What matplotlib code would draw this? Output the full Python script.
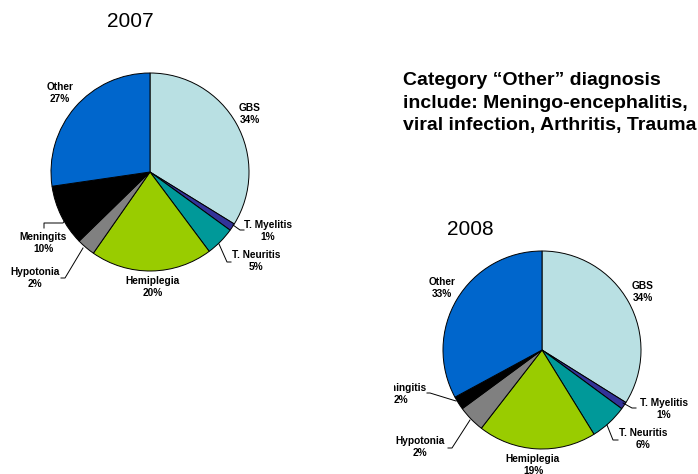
import matplotlib.pyplot as plt
from matplotlib.transforms import Bbox, TransformedBbox

plt.rcParams['font.family'] = ['Liberation Sans', 'DejaVu Sans']

# data (slice sizes, labels as printed)
names = ['GBS', 'T. Myelitis', 'T. Neuritis', 'Hemiplegia', 'Hypotonia', 'Meningits', 'Other']
names_2008 = ['GBS', 'T. Myelitis', 'T. Neuritis', 'Hemiplegia', 'Hypotonia', 'Meningitis', 'Other']
sizes_2007 = [33.8, 1.2, 4.8, 19.9, 3.0, 10.0, 27.3]
sizes_2008 = [33.9, 1.2, 6.1, 19.3, 4.4, 2.2, 32.9]
pct_2007 = ['34%', '1%', '5%', '20%', '2%', '10%', '27%']
pct_2008 = ['34%', '1%', '6%', '19%', '2%', '2%', '33%']
colors = ['#B9E0E3', '#333399', '#009999', '#99CC00', '#808080', '#000000', '#0066CC']

note = 'Category \u201cOther\u201d diagnosis\ninclude: Meningo-encephalitis,\nviral infection, Arthritis, Trauma'

W, H = 698, 474
fig = plt.figure(figsize=(W / 100, H / 100), dpi=100)
ax = fig.add_axes([0, 0, 1, 1])


def Y(y):
    return H - y


def draw_pie(sizes, labnames, pcts, center, label_pos, leaders, clip=None):
    wedges, _ = ax.pie(sizes, colors=colors, startangle=90, counterclock=False,
                       center=(center[0], Y(center[1])), radius=99,
                       wedgeprops=dict(edgecolor='black', linewidth=0.7))
    for i, (n, p) in enumerate(zip(labnames, pcts)):
        t = ax.text(label_pos[i][0], Y(label_pos[i][1]), n + '\n' + p,
                    ha='center', va='center', fontsize=7.3, fontweight='bold',
                    linespacing=1.2)
        if clip is not None:
            t.set_clip_box(clip)
            t.set_clip_on(True)
    for pts in leaders:
        ax.plot([p[0] for p in pts], [Y(p[1]) for p in pts], color='black', lw=0.7)


pos_2007 = [(250, 114), (268, 231), (256, 261), (153, 287), (35, 278), (43, 243), (60, 93)]
lead_2007 = [
    [(233, 225), (240, 230), (244, 230)],
    [(219, 244), (227, 262), (231, 262)],
    [(83, 248), (65, 278), (61, 278)],
    [(67, 217), (63, 223), (44, 223), (44, 228)],
]
draw_pie(sizes_2007, names, pct_2007, (150, 172), pos_2007, lead_2007)

# the 2008 chart is cut at its left side
clip_box = TransformedBbox(Bbox([[394, 0], [W, H]]), ax.transData)
pos_2008 = [(643, 292), (664, 409), (643, 439), (533, 465), (420, 447), (401, 394), (442, 288)]
lead_2008 = [
    [(623, 403), (632, 408), (636, 408)],
    [(607, 425), (613, 440), (618, 440)],
    [(470, 420), (452, 448), (448, 448)],
    [(456, 401), (430, 393), (427, 393)],
]
draw_pie(sizes_2008, names_2008, pct_2008, (542, 350), pos_2008, lead_2008, clip=clip_box)

ax.text(130, Y(21), '2007', ha='center', va='center', fontsize=15)
ax.text(470, Y(229), '2008', ha='center', va='center', fontsize=15)
ax.text(403, Y(103), note, ha='left', va='center', fontsize=14, fontweight='bold',
        linespacing=1.45)

ax.set_xlim(0, W)
ax.set_ylim(0, H)
ax.set_aspect('equal')
ax.axis('off')
fig.savefig('out.png', dpi=100)
